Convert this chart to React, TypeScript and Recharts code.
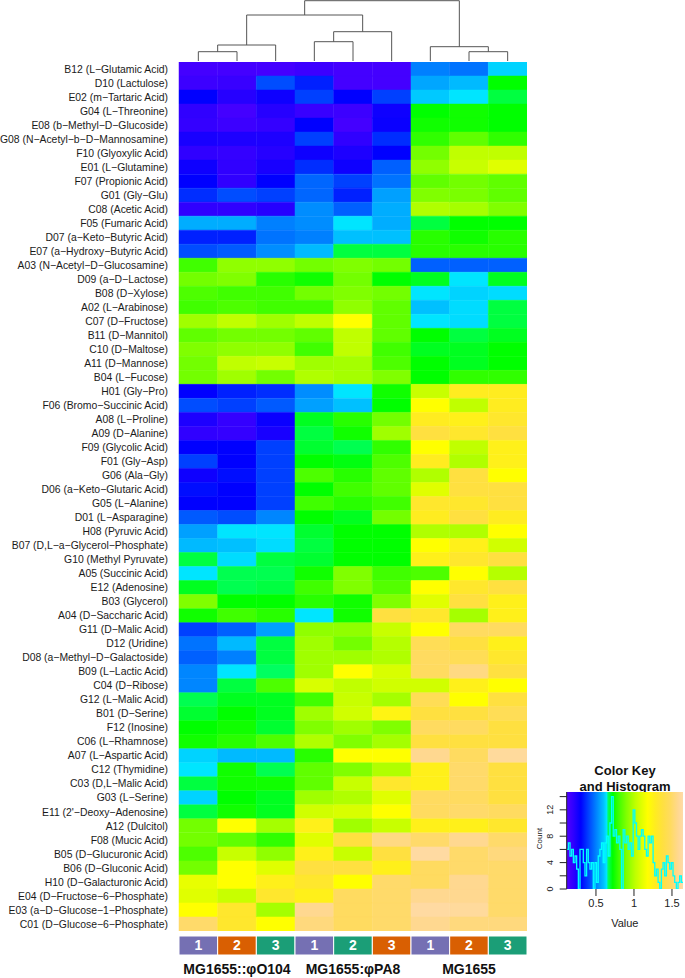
import React from "react";
import {
    BarChart, Bar, Cell, XAxis, YAxis, LineChart, Line,
    ComposedChart, ReferenceArea, LabelList,
} from "recharts";

// ---- data ----
const ROW_LABELS = [
    "B12 (L−Glutamic Acid)", "D10 (Lactulose)", "E02 (m−Tartaric Acid)", "G04 (L−Threonine)",
    "E08 (b−Methyl−D−Glucoside)", "G08 (N−Acetyl−b−D−Mannosamine)", "F10 (Glyoxylic Acid)",
    "E01 (L−Glutamine)", "F07 (Propionic Acid)", "G01 (Gly−Glu)", "C08 (Acetic Acid)",
    "F05 (Fumaric Acid)", "D07 (a−Keto−Butyric Acid)", "E07 (a−Hydroxy−Butyric Acid)",
    "A03 (N−Acetyl−D−Glucosamine)", "D09 (a−D−Lactose)", "B08 (D−Xylose)", "A02 (L−Arabinose)",
    "C07 (D−Fructose)", "B11 (D−Mannitol)", "C10 (D−Maltose)", "A11 (D−Mannose)", "B04 (L−Fucose)",
    "H01 (Gly−Pro)", "F06 (Bromo−Succinic Acid)", "A08 (L−Proline)", "A09 (D−Alanine)",
    "F09 (Glycolic Acid)", "F01 (Gly−Asp)", "G06 (Ala−Gly)", "D06 (a−Keto−Glutaric Acid)",
    "G05 (L−Alanine)", "D01 (L−Asparagine)", "H08 (Pyruvic Acid)", "B07 (D,L−a−Glycerol−Phosphate)",
    "G10 (Methyl Pyruvate)", "A05 (Succinic Acid)", "E12 (Adenosine)", "B03 (Glycerol)",
    "A04 (D−Saccharic Acid)", "G11 (D−Malic Acid)", "D12 (Uridine)", "D08 (a−Methyl−D−Galactoside)",
    "B09 (L−Lactic Acid)", "C04 (D−Ribose)", "G12 (L−Malic Acid)", "B01 (D−Serine)", "F12 (Inosine)",
    "C06 (L−Rhamnose)", "A07 (L−Aspartic Acid)", "C12 (Thymidine)", "C03 (D,L−Malic Acid)",
    "G03 (L−Serine)", "E11 (2'−Deoxy−Adenosine)", "A12 (Dulcitol)", "F08 (Mucic Acid)",
    "B05 (D−Glucuronic Acid)", "B06 (D−Gluconic Acid)", "H10 (D−Galacturonic Acid)",
    "E04 (D−Fructose−6−Phosphate)", "E03 (a−D−Glucose−1−Phosphate)", "C01 (D−Glucose−6−Phosphate)",
];

// one row per substrate, columns in dendrogram order (φO104 1-3, φPA8 1-3, MG1655 1-3)
const CELL_VALUES = [
    [0.15, 0.15, 0.15, 0.17, 0.15, 0.15, 0.50, 0.48, 0.62],
    [0.17, 0.18, 0.42, 0.35, 0.15, 0.15, 0.56, 0.59, 0.72],
    [0.30, 0.22, 0.27, 0.40, 0.30, 0.40, 0.61, 0.64, 0.68],
    [0.20, 0.15, 0.22, 0.18, 0.17, 0.27, 0.72, 0.74, 0.72],
    [0.19, 0.17, 0.19, 0.30, 0.15, 0.28, 0.74, 0.74, 0.72],
    [0.25, 0.24, 0.24, 0.40, 0.20, 0.37, 0.78, 0.85, 0.78],
    [0.20, 0.19, 0.22, 0.27, 0.24, 0.30, 0.88, 1.02, 1.02],
    [0.27, 0.20, 0.25, 0.37, 0.27, 0.45, 0.93, 1.04, 1.10],
    [0.30, 0.20, 0.30, 0.46, 0.40, 0.48, 0.85, 0.88, 0.85],
    [0.37, 0.42, 0.40, 0.46, 0.35, 0.55, 0.90, 0.89, 0.85],
    [0.20, 0.20, 0.22, 0.52, 0.45, 0.57, 0.99, 0.97, 0.90],
    [0.57, 0.57, 0.50, 0.52, 0.64, 0.57, 0.68, 0.72, 0.72],
    [0.35, 0.35, 0.48, 0.50, 0.60, 0.60, 0.77, 0.74, 0.77],
    [0.42, 0.44, 0.52, 0.59, 0.68, 0.68, 0.77, 0.77, 0.77],
    [0.80, 0.93, 0.93, 0.88, 0.90, 0.88, 0.45, 0.45, 0.45],
    [0.88, 0.90, 0.77, 0.74, 0.88, 0.72, 0.70, 0.64, 0.70],
    [0.82, 0.80, 0.80, 0.88, 0.90, 0.88, 0.64, 0.62, 0.63],
    [0.80, 0.82, 0.80, 0.80, 0.93, 0.85, 0.60, 0.63, 0.68],
    [0.96, 1.02, 0.96, 1.02, 1.18, 0.85, 0.64, 0.63, 0.68],
    [0.85, 0.88, 0.88, 0.85, 1.02, 0.85, 0.72, 0.68, 0.70],
    [0.90, 0.93, 0.93, 0.80, 1.02, 0.80, 0.70, 0.70, 0.72],
    [0.88, 1.02, 1.04, 0.96, 0.97, 0.82, 0.72, 0.70, 0.72],
    [0.88, 0.96, 0.88, 0.99, 0.97, 0.90, 0.72, 0.78, 0.78],
    [0.30, 0.35, 0.37, 0.52, 0.64, 0.74, 1.04, 1.28, 1.28],
    [0.42, 0.40, 0.44, 0.55, 0.60, 0.72, 1.18, 1.02, 1.28],
    [0.24, 0.19, 0.28, 0.70, 0.77, 0.88, 1.28, 1.26, 1.32],
    [0.20, 0.19, 0.25, 0.68, 0.74, 0.96, 1.38, 1.32, 1.38],
    [0.30, 0.30, 0.40, 0.69, 0.67, 0.78, 1.18, 1.02, 1.26],
    [0.40, 0.30, 0.40, 0.72, 0.71, 0.82, 1.28, 0.99, 1.26],
    [0.27, 0.32, 0.40, 0.82, 0.77, 0.85, 0.99, 1.38, 1.18],
    [0.32, 0.30, 0.40, 0.72, 0.80, 0.85, 1.10, 1.38, 1.38],
    [0.30, 0.30, 0.40, 0.80, 0.77, 0.80, 1.32, 1.32, 1.38],
    [0.44, 0.42, 0.51, 0.72, 0.70, 0.88, 1.28, 1.38, 1.28],
    [0.55, 0.64, 0.64, 0.69, 0.72, 0.72, 0.99, 0.99, 1.18],
    [0.59, 0.60, 0.63, 0.68, 0.72, 0.72, 1.18, 1.26, 1.06],
    [0.68, 0.63, 0.68, 0.69, 0.72, 0.72, 1.26, 1.32, 1.38],
    [0.64, 0.67, 0.67, 0.74, 0.90, 0.80, 0.82, 1.18, 1.00],
    [0.70, 0.67, 0.68, 0.80, 0.90, 0.83, 1.18, 1.32, 1.38],
    [0.90, 0.72, 0.72, 0.77, 0.74, 0.90, 1.10, 1.38, 1.26],
    [0.74, 0.80, 0.77, 0.64, 0.74, 1.38, 1.32, 0.97, 1.26],
    [0.40, 0.45, 0.55, 0.93, 0.93, 1.04, 1.18, 1.48, 1.48],
    [0.48, 0.59, 0.68, 0.96, 0.88, 1.00, 1.45, 1.38, 1.26],
    [0.45, 0.50, 0.68, 0.96, 0.96, 0.99, 1.48, 1.45, 1.32],
    [0.51, 0.64, 0.66, 0.96, 1.18, 1.08, 1.48, 1.55, 1.38],
    [0.51, 0.68, 0.82, 1.08, 1.02, 1.06, 1.06, 1.26, 1.18],
    [0.67, 0.70, 0.70, 0.80, 1.04, 0.97, 1.45, 1.18, 1.38],
    [0.69, 0.72, 0.70, 0.96, 1.06, 1.24, 1.38, 1.38, 1.45],
    [0.72, 0.74, 0.69, 0.90, 0.96, 0.90, 1.48, 1.48, 1.38],
    [0.74, 0.77, 0.82, 0.99, 0.90, 0.97, 1.38, 1.38, 1.38],
    [0.62, 0.59, 0.59, 0.77, 1.18, 1.18, 1.58, 1.48, 1.62],
    [0.64, 0.74, 0.67, 0.85, 0.90, 0.99, 1.26, 1.50, 1.38],
    [0.68, 0.74, 0.74, 0.85, 1.04, 1.32, 1.26, 1.50, 1.38],
    [0.62, 0.72, 0.70, 0.96, 0.99, 1.10, 1.48, 1.48, 1.38],
    [0.68, 0.74, 0.70, 1.06, 1.08, 1.18, 1.48, 1.50, 1.48],
    [0.88, 1.18, 0.97, 1.26, 0.96, 1.04, 1.26, 1.26, 1.32],
    [0.88, 0.85, 0.78, 1.10, 1.38, 1.55, 1.50, 1.58, 1.50],
    [0.82, 1.04, 0.93, 1.26, 1.04, 1.38, 1.64, 1.50, 1.54],
    [0.88, 1.18, 1.10, 1.38, 1.38, 1.26, 1.48, 1.50, 1.50],
    [1.12, 1.18, 1.26, 1.32, 1.18, 1.50, 1.48, 1.58, 1.50],
    [1.10, 1.04, 1.32, 1.26, 1.48, 1.50, 1.58, 1.58, 1.50],
    [1.18, 1.32, 0.97, 1.58, 1.48, 1.50, 1.64, 1.62, 1.50],
    [1.50, 1.32, 1.18, 1.54, 1.48, 1.50, 1.58, 1.54, 1.54],
];

const COLUMN_REPLICATES = ["1", "2", "3", "1", "2", "3", "1", "2", "3"];
const GROUP_NAMES = ["MG1655::φO104", "MG1655:φPA8", "MG1655"];
const GROUP_TICKS = [1.5, 4.5, 7.5];

// hclust merges: negative = leaf (column number), positive = earlier merge; last = height
const DENDRO_MERGES: [number, number, number][] = [
    [-1, -2, 9.3],
    [1, -3, 16],
    [-4, -5, 19.3],
    [3, -6, 29.3],
    [2, 4, 46],
    [-8, -9, 9.3],
    [-7, 6, 14.3],
    [5, 7, 60.3],
];

// colour key histogram
const HIST_START = 0.115;
const HIST_END = 1.645;
const HIST_COUNTS = [
    6, 7, 5, 6, 4, 5, 3, 0, 6, 6,
    4, 2, 6, 4, 3, 4, 0, 4, 1, 5,
    6, 7, 4, 7, 8, 5, 10, 14, 8, 9,
    7, 8, 6, 0, 9, 7, 8, 6, 7, 5,
    12, 10, 8, 6, 8, 9, 8, 6, 5, 8,
    7, 8, 4, 2, 3, 1, 0, 3, 4, 2,
    5, 4, 3, 4, 2, 1, 0, 1, 2, 1,
];
const KEY_TICKS = [0.5, 1, 1.5];
const COUNT_TICKS = [0, 2, 4, 6, 8, 10, 12, 14];
const COUNT_LABELS = [0, 4, 8, 12];

// ---- styles ----
const SIDE_COLORS = ["#7570b3", "#d95f02", "#1b9e77", "#7570b3", "#1b9e77", "#d95f02", "#7570b3", "#d95f02", "#1b9e77"];
const COLOR_STOPS: [number, string][] = [
    [0.13, "#4c00ff"], [0.20, "#3000ff"], [0.30, "#0000ff"], [0.40, "#0040ff"],
    [0.50, "#0080ff"], [0.60, "#00c0ff"], [0.64, "#00e5ff"], [0.66, "#00ff60"],
    [0.72, "#00ff00"], [0.80, "#40ff00"], [0.90, "#80ff00"], [1.02, "#c0ff00"],
    [1.10, "#e0ff00"], [1.18, "#ffff00"], [1.28, "#ffec20"], [1.38, "#ffe040"],
    [1.48, "#ffdb60"], [1.58, "#ffd890"], [1.66, "#ffdba8"],
];
const FONT = '"Liberation Sans", Arial, Helvetica, sans-serif';

function hexRgb(h: string) {
    return [1, 3, 5].map(i => parseInt(h.slice(i, i + 2), 16));
}

function colorFor(v: number) {
    const s = COLOR_STOPS;
    if (v <= s[0][0]) return s[0][1];
    for (let i = 1; i < s.length; i++) {
        if (v <= s[i][0]) {
            const t = (v - s[i - 1][0]) / (s[i][0] - s[i - 1][0]);
            const a = hexRgb(s[i - 1][1]), b = hexRgb(s[i][1]);
            const c = a.map((x, k) => Math.round(x + (b[k] - x) * t));
            return `rgb(${c[0]},${c[1]},${c[2]})`;
        }
    }
    return s[s.length - 1][1];
}

function dendroLinks() {
    const nodes: { x: number; h: number }[] = [];
    const pos = (id: number) => (id < 0 ? { x: -id - 0.5, h: 0 } : nodes[id - 1]);
    return DENDRO_MERGES.map(([a, b, h]) => {
        const A = pos(a), B = pos(b);
        nodes.push({ x: (A.x + B.x) / 2, h });
        return [{ x: A.x, h: A.h }, { x: A.x, h }, { x: B.x, h }, { x: B.x, h: B.h }];
    });
}

const heatRows = ROW_LABELS.map((name, r) => {
    const row: any = { name };
    CELL_VALUES[r].forEach((v, c) => { row[`c${c}`] = 1; row[`v${c}`] = v; });
    return row;
});

const sideRow = [Object.fromEntries(COLUMN_REPLICATES.map((_, c) => [`c${c}`, 1]))];

const histData = [
    ...HIST_COUNTS.map((count, i) => ({ x: HIST_START + (i * (HIST_END - HIST_START)) / HIST_COUNTS.length, count })),
    { x: HIST_END, count: HIST_COUNTS[HIST_COUNTS.length - 1] },
];

const noMargin = { top: 0, right: 0, bottom: 0, left: 0 };

// plain svg text so long names are not wrapped
function RowTick({ x, y, payload }: any) {
    return (
        <text x={x} y={y} dy="0.35em" textAnchor="end" fontSize={10.4} fill="#1a1a1a" fontFamily={FONT}>
            {payload.value}
        </text>
    );
}

function CountTick({ x, y, payload }: any) {
    if (!COUNT_LABELS.includes(payload.value)) return null;
    return (
        <text x={x - 5} y={y} transform={`rotate(-90 ${x - 5} ${y})`} textAnchor="middle"
              fontSize={9} fill="#222" fontFamily={FONT}>{payload.value}</text>
    );
}

export default function App() {
    const links = dendroLinks();
    return (
        <div style={{ position: "absolute", left: 0, top: 0, width: 685, height: 978, background: "#fff", fontFamily: FONT }}>

            {/* column dendrogram */}
            <div style={{ position: "absolute", left: 179, top: 0 }}>
                <LineChart width={348} height={61} margin={noMargin}>
                    <XAxis type="number" dataKey="x" domain={[0, 9]} hide allowDataOverflow />
                    <YAxis type="number" domain={[0, 61]} hide allowDataOverflow />
                    {links.map((d, i) => (
                        <Line key={i} data={d} dataKey="h" type="linear" stroke="#555" strokeWidth={1}
                              dot={false} isAnimationActive={false} />
                    ))}
                </LineChart>
            </div>

            {/* heatmap */}
            <div style={{ position: "absolute", left: 0, top: 62 }}>
                <BarChart layout="vertical" width={527} height={869} data={heatRows} margin={noMargin}
                          barCategoryGap={0} barGap={0}>
                    <XAxis type="number" domain={[0, 9]} hide />
                    <YAxis type="category" dataKey="name" width={179} interval={0} tickLine={false}
                           axisLine={false} tickSize={6} tickMargin={5} tick={<RowTick />} />
                    {COLUMN_REPLICATES.map((_, c) => (
                        <Bar key={c} dataKey={`c${c}`} stackId="cells" isAnimationActive={false}>
                            {CELL_VALUES.map((row, r) => (
                                <Cell key={r} fill={colorFor(row[c])} stroke={colorFor(row[c])} strokeWidth={0.5} />
                            ))}
                        </Bar>
                    ))}
                </BarChart>
            </div>

            {/* column side colours + group names */}
            <div style={{ position: "absolute", left: 179, top: 936 }}>
                <BarChart layout="vertical" width={348} height={42} data={sideRow} margin={noMargin}
                          barCategoryGap={0}>
                    <XAxis type="number" domain={[0, 9]} ticks={GROUP_TICKS} height={23} tickLine={false}
                           axisLine={false} tickSize={0} tickMargin={9} interval={0}
                           tickFormatter={(v: number) => GROUP_NAMES[GROUP_TICKS.indexOf(v)]}
                           tick={{ fontSize: 14, fontWeight: "bold", fill: "#111" }} />
                    <YAxis type="category" hide />
                    {COLUMN_REPLICATES.map((rep, c) => (
                        <Bar key={c} dataKey={`c${c}`} stackId="side" fill={SIDE_COLORS[c]} stroke="#fff"
                             strokeWidth={1} isAnimationActive={false}>
                            <LabelList position="center" formatter={() => rep} fill="#fff" fontSize={14}
                                       fontWeight="bold" />
                        </Bar>
                    ))}
                </BarChart>
            </div>

            {/* colour key */}
            <div style={{ position: "absolute", left: 520, top: 763, width: 210, textAlign: "center",
                          fontSize: 13, fontWeight: "bold", lineHeight: "16px", color: "#111" }}>
                Color Key<br />and Histogram
            </div>
            <div style={{ position: "absolute", left: 524, top: 834, fontSize: 8, color: "#222",
                          transform: "rotate(-90deg)", width: 30, textAlign: "center" }}>
                Count
            </div>
            <div style={{ position: "absolute", left: 520, top: 791.7 }}>
                <ComposedChart width={165} height={137} margin={{ top: 0, right: 2, bottom: 0, left: 0 }}>
                    <defs>
                        <linearGradient id="keyGrad" x1="0" y1="0" x2="1" y2="0">
                            {COLOR_STOPS.map(([v, col], i) => (
                                <stop key={i} offset={Math.min(1, Math.max(0, (v - HIST_START) / (HIST_END - HIST_START)))}
                                      stopColor={col} />
                            ))}
                        </linearGradient>
                    </defs>
                    <XAxis type="number" dataKey="x" domain={[HIST_START, HIST_END]} ticks={KEY_TICKS}
                           allowDataOverflow height={40} tickSize={7} tickMargin={3} axisLine={false}
                           tickLine={{ stroke: "#222" }} tick={{ fontSize: 11, fill: "#222" }}
                           label={{ value: "Value", position: "insideBottom", offset: 2, fontSize: 11, fill: "#222" }} />
                    <YAxis type="number" domain={[0, 14.7]} ticks={COUNT_TICKS} width={46.7} tickSize={7}
                           allowDataOverflow interval={0} axisLine={{ stroke: "#222" }}
                           tickLine={{ stroke: "#222" }} tick={<CountTick />} />
                    <ReferenceArea x1={HIST_START} x2={HIST_END} y1={0} y2={14.7} fill="url(#keyGrad)"
                                   fillOpacity={1} stroke="none" />
                    <Line data={histData} dataKey="count" type="stepAfter" stroke="#00ffff" strokeWidth={1.3}
                          dot={false} isAnimationActive={false} />
                </ComposedChart>
            </div>
        </div>
    );
}
